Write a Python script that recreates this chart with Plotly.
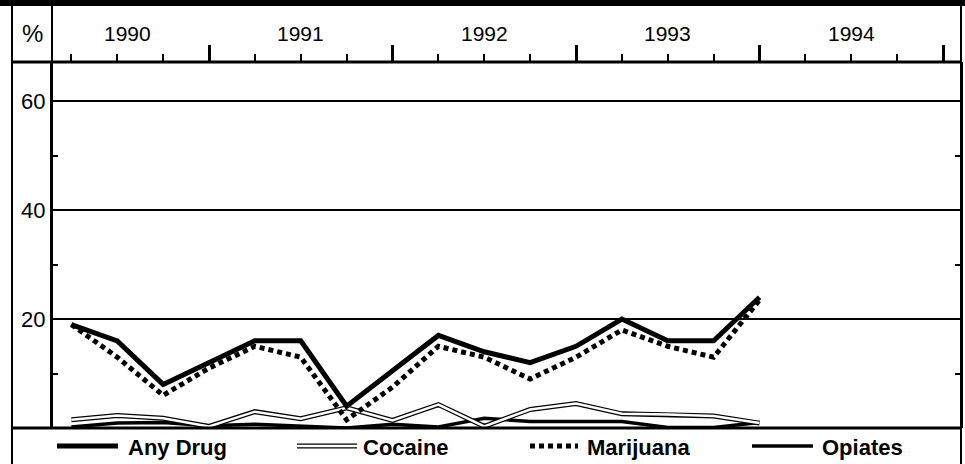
import plotly.graph_objects as go

# quarterly readings, points sit at the end of each quarter
quarters = [
    "1990 Q1", "1990 Q2", "1990 Q3", "1990 Q4",
    "1991 Q1", "1991 Q2", "1991 Q3", "1991 Q4",
    "1992 Q1", "1992 Q2", "1992 Q3", "1992 Q4",
    "1993 Q1", "1993 Q2", "1993 Q3", "1993 Q4",
]
any_drug = [19, 16, 8, 12, 16, 16, 4, 10.5, 17, 14, 12, 15, 20, 16, 16, 24]
marijuana = [19, 13, 6, 11, 15, 13, 1.5, 7.5, 15, 13, 9, 13, 18, 15, 13, 23.5]
cocaine = [1.5, 2.3, 1.8, 0.3, 3, 1.7, 3.7, 1.4, 4.3, 0.3, 3.4, 4.5, 2.6, 2.5, 2.2, 0.9]
opiates = [0.2, 0.9, 1.0, 0.4, 0.7, 0.3, 0, 0.7, 0.2, 1.8, 1.2, 1.2, 1.2, 0.1, 0.1, 1.0]

year_labels = ["1990", "1991", "1992", "1993", "1994"]
y_ticks = [20, 40, 60]
y_minor = [10, 30, 50]

x = [int(q[:4]) + int(q[-1]) / 4 for q in quarters]

W, H = 965, 464
L, R, T, B = 52, 4, 62, 36
PW, PH = W - L - R, H - T - B
FONT = "Liberation Sans, Arial, sans-serif"


def px(v):
    return (v - L) / PW


def py(v):
    return (H - B - v) / PH


fig = go.Figure()

fig.add_trace(go.Scatter(x=x, y=opiates, mode="lines", name="Opiates",
                         line=dict(color="black", width=3.5)))
fig.add_trace(go.Scatter(x=x, y=cocaine, mode="lines", showlegend=False,
                         line=dict(color="black", width=5)))
fig.add_trace(go.Scatter(x=x, y=cocaine, mode="lines", name="Cocaine",
                         line=dict(color="white", width=2.5)))
fig.add_trace(go.Scatter(x=x, y=marijuana, mode="lines", name="Marijuana",
                         line=dict(color="black", width=5, dash="5px,4px")))
fig.add_trace(go.Scatter(x=x, y=any_drug, mode="lines", name="Any Drug",
                         line=dict(color="black", width=5)))

shapes = []
line = lambda x0, y0, x1, y1, w=2: dict(type="line", xref="paper", yref="paper",
                                        x0=px(x0), y0=py(y0), x1=px(x1), y1=py(y1),
                                        line=dict(color="black", width=w), layer="above")
# frame
shapes.append(dict(type="rect", xref="paper", yref="paper", x0=px(0), x1=px(W),
                   y0=py(0), y1=py(6), fillcolor="black", line=dict(width=0)))
shapes.append(line(12, 5, 12, H, 2))
shapes.append(line(52, 5, 52, 428, 2))
shapes.append(line(961, 5, 961, H, 2))
shapes.append(line(12, 62, 961, 62, 3))
shapes.append(line(12, 428, 961, 428, 3))

# legend drawn by hand
legend_y = 446
shapes.append(line(57, legend_y, 118, legend_y, 5))
shapes.append(line(297, legend_y, 357, legend_y, 5))
shapes.append(dict(type="line", xref="paper", yref="paper", x0=px(297), x1=px(357),
                   y0=py(legend_y), y1=py(legend_y), line=dict(color="white", width=2.5)))
shapes.append(dict(type="line", xref="paper", yref="paper", x0=px(530), x1=px(578),
                   y0=py(legend_y), y1=py(legend_y),
                   line=dict(color="black", width=5, dash="5px,4px")))
shapes.append(line(752, legend_y, 813, legend_y, 3.5))

annotations = [
    dict(text="%", x=px(32), y=py(33), xref="paper", yref="paper", showarrow=False,
         xanchor="center", yanchor="middle",
         font=dict(size=24, color="black", family=FONT)),
]
for i, yl in enumerate(year_labels):
    annotations.append(dict(text=yl, x=int(yl) + 0.5, y=py(33), xref="x", yref="paper",
                            xshift=10 if i == 0 else 0, showarrow=False,
                            xanchor="center", yanchor="middle",
                            font=dict(size=21, color="black", family=FONT)))
for name, lx in [("Any Drug", 126), ("Cocaine", 361), ("Marijuana", 585), ("Opiates", 820)]:
    annotations.append(dict(text="<b>" + name + "</b>", x=px(lx), y=py(legend_y + 1),
                            xref="paper", yref="paper", xanchor="left", yanchor="middle",
                            showarrow=False,
                            font=dict(size=22, color="black", family=FONT)))

fig.update_layout(
    width=W, height=H,
    margin=dict(l=L, r=R, t=T, b=B),
    paper_bgcolor="white", plot_bgcolor="white",
    showlegend=False,
    font=dict(family=FONT, color="black"),
    shapes=shapes,
    annotations=annotations,
    xaxis=dict(
        range=[1990 + (L - 25.5) / 183.5, 1990 + (961 - 25.5) / 183.5],
        side="top", showgrid=False, zeroline=False, showline=False, automargin=False,
        tickmode="linear", tick0=1990, dtick=1,
        ticks="outside", ticklen=16, tickwidth=3, tickcolor="black",
        showticklabels=False,
        minor=dict(tick0=1990, dtick=0.25, ticks="outside", ticklen=7,
                   tickwidth=2, tickcolor="black"),
    ),
    yaxis=dict(
        range=[0, 67.2], tickvals=y_ticks, ticks="", automargin=False,
        showgrid=True, gridcolor="black", gridwidth=2,
        zeroline=False, showline=True, linecolor="black", linewidth=2, mirror="ticks",
        tickfont=dict(size=22, color="black", family=FONT), ticklabelstandoff=0,
        minor=dict(tickvals=y_minor, ticks="inside", ticklen=6, tickwidth=2,
                   tickcolor="black", showgrid=False),
    ),
)

# the page body has a default 8px margin; drop it so the chart sits at 0,0
fig.write_html("out.html", config={"displayModeBar": False},
               post_script="document.body.style.margin='0';")
